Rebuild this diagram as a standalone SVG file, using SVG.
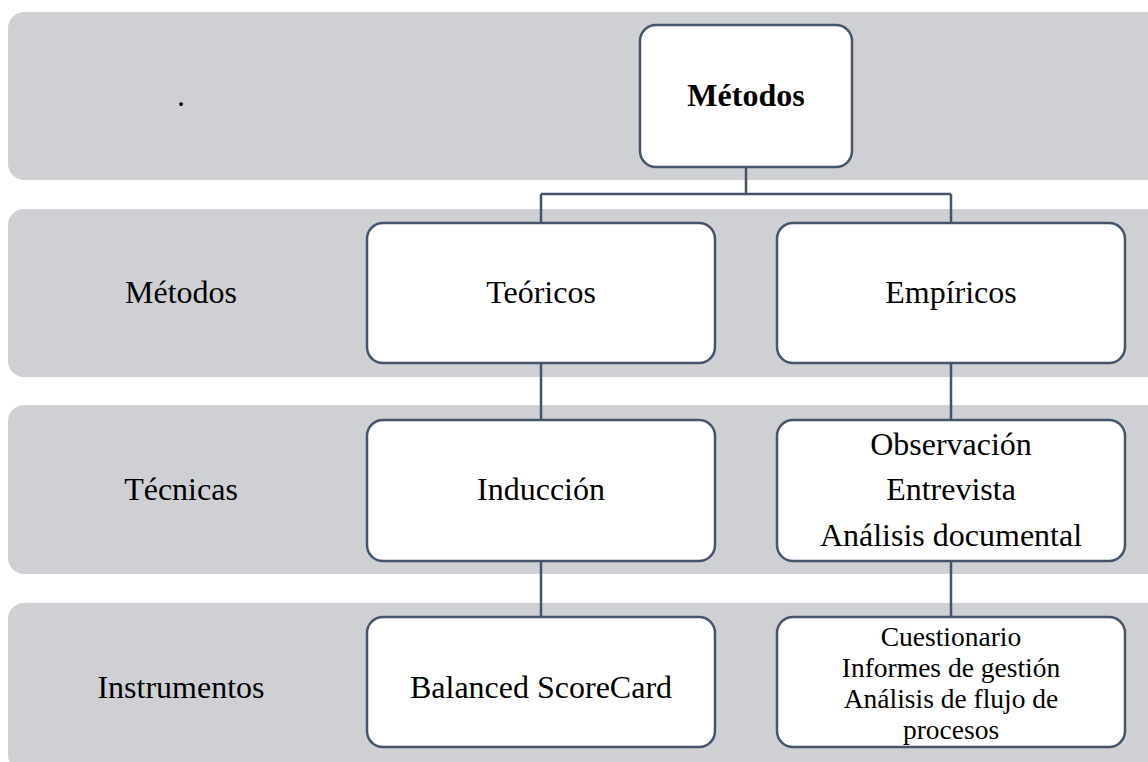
<svg xmlns="http://www.w3.org/2000/svg" width="1148" height="762" viewBox="0 0 1148 762">
<style>
.band{fill:#cfd0d4;}
.node{fill:#ffffff;stroke:#44546a;stroke-width:2.5;}
.conn{stroke:#44546a;stroke-width:2.5;fill:none;}
text{font-family:"Liberation Serif","Times New Roman",serif;font-size:32px;fill:#000;text-anchor:middle;}
.b{font-weight:bold;}
.s{font-size:27.5px;}
</style>
<rect width="1148" height="762" fill="#ffffff"/>
<g id="bands">
<rect class="band" x="8" y="12" width="1160" height="168" rx="16"/>
<rect class="band" x="8" y="209" width="1160" height="168" rx="16"/>
<rect class="band" x="8" y="405" width="1160" height="169" rx="16"/>
<rect class="band" x="8" y="603" width="1160" height="168" rx="16"/>
</g>
<g id="labels">
<text x="181" y="106">.</text>
<text x="181" y="303">Métodos</text>
<text x="181" y="500">Técnicas</text>
<text x="181" y="698">Instrumentos</text>
</g>
<g id="connectors">
<path class="conn" d="M746,167 V194 M541,194 H951 M541,194 V223 M951,194 V223 M541,363 V420 M951,363 V420 M541,561 V617 M951,561 V617"/>
</g>
<g id="n-metodos">
<rect class="node" x="640" y="25" width="212" height="142" rx="16"/>
<text class="b" x="746" y="106">Métodos</text>
</g>
<g id="n-teoricos">
<rect class="node" x="367" y="223" width="348" height="140" rx="16"/>
<text x="541" y="303">Teóricos</text>
</g>
<g id="n-empiricos">
<rect class="node" x="777" y="223" width="348" height="140" rx="16"/>
<text x="951" y="303">Empíricos</text>
</g>
<g id="n-induccion">
<rect class="node" x="367" y="420" width="348" height="141" rx="16"/>
<text x="541" y="500">Inducción</text>
</g>
<g id="n-tecnicas-emp">
<rect class="node" x="777" y="420" width="348" height="141" rx="16"/>
<text x="951" y="455">Observación</text>
<text x="951" y="500">Entrevista</text>
<text x="951" y="546">Análisis documental</text>
</g>
<g id="n-bsc">
<rect class="node" x="367" y="617" width="348" height="130" rx="16"/>
<text x="541" y="698">Balanced ScoreCard</text>
</g>
<g id="n-instr-emp">
<rect class="node" x="777" y="617" width="348" height="130" rx="16"/>
<text class="s" x="951" y="646">Cuestionario</text>
<text class="s" x="951" y="677">Informes de gestión</text>
<text class="s" x="951" y="708">Análisis de flujo de</text>
<text class="s" x="951" y="739">procesos</text>
</g>
</svg>
